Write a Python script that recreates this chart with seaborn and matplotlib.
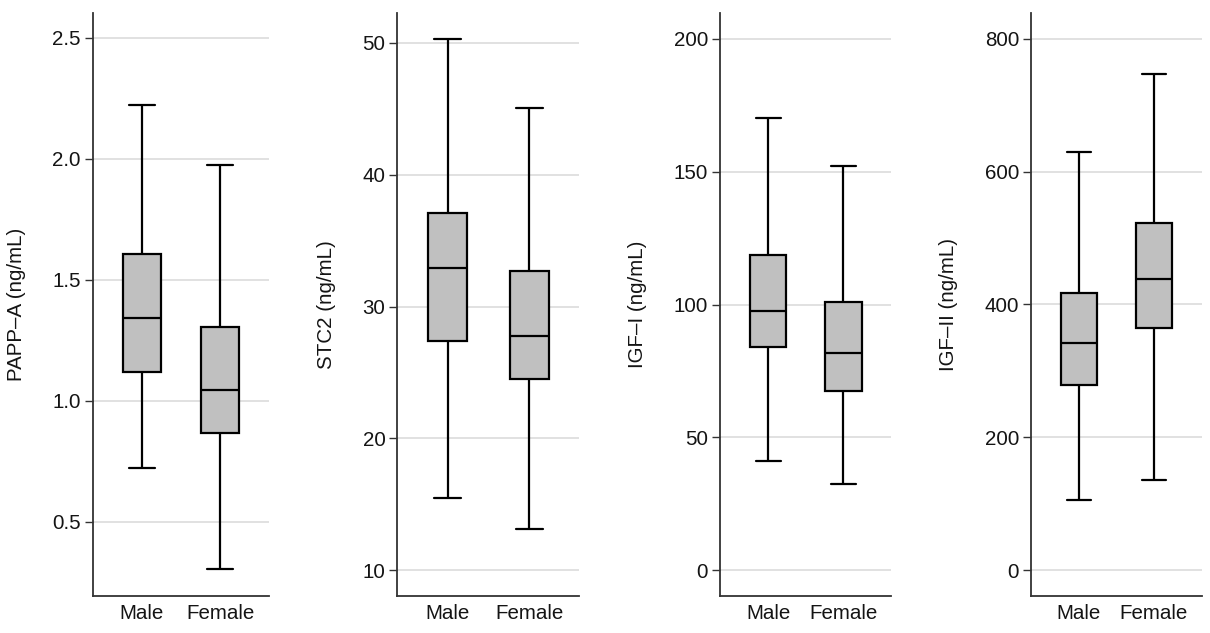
import numpy as np
import pandas as pd
import seaborn as sns
import matplotlib.pyplot as plt

# five-number summaries (min, Q1, median, Q3, max)
groups = ['Male', 'Female']

pappa_male = [0.72, 1.118, 1.341, 1.607, 2.22]
pappa_female = [0.303, 0.867, 1.044, 1.306, 1.972]

stc2_male = [15.5, 27.4, 32.9, 37.1, 50.3]
stc2_female = [13.15, 24.5, 27.8, 32.7, 45.1]

igf1_male = [41.3, 83.9, 97.7, 118.7, 170.1]
igf1_female = [32.5, 67.5, 81.9, 100.8, 152.0]

igf2_male = [106, 278.5, 341.8, 417.8, 630]
igf2_female = [135.6, 364.7, 437.7, 522, 747]

labels = ['PAPP\u2013A (ng/mL)', 'STC2 (ng/mL)', 'IGF\u2013I (ng/mL)', 'IGF\u2013II (ng/mL)']
yticks = [[0.5, 1.0, 1.5, 2.0, 2.5], [10, 20, 30, 40, 50],
          [0, 50, 100, 150, 200], [0, 200, 400, 600, 800]]
yfmt = ['{:.1f}', '{:.0f}', '{:.0f}', '{:.0f}']
ylims = [(0.193, 2.603), (8.04, 52.3), (-9.7, 209.9), (-39, 839.5)]
xlims = [(-0.626, 1.621), (-0.616, 1.61), (-0.644, 1.631), (-0.64, 1.636)]

panels = [(pappa_male, pappa_female), (stc2_male, stc2_female),
          (igf1_male, igf1_female), (igf2_male, igf2_female)]

sns.set_style('white')
plt.rcParams['font.family'] = ['Liberation Sans', 'DejaVu Sans']
text_col = '#141414'

fig = plt.figure(figsize=(12.1, 6.33), dpi=100)
# axes boxes [left, bottom, width, height] in figure fractions
boxes = [[0.0766, 0.0585, 0.1455, 0.9215],
         [0.3283, 0.0585, 0.1504, 0.9215],
         [0.595, 0.0585, 0.1411, 0.9215],
         [0.852, 0.0585, 0.1411, 0.9215]]

for i, (male, female) in enumerate(panels):
    ax = fig.add_axes(boxes[i])
    df = pd.DataFrame({
        'sex': [groups[0]] * len(male) + [groups[1]] * len(female),
        'value': male + female,
    })
    ax.yaxis.grid(True, color='#d9d9d9', lw=1.1)
    ax.set_axisbelow(True)
    sns.boxplot(data=df, x='sex', y='value', order=groups, ax=ax,
                color='#c0c0c0', saturation=1, linecolor='black',
                linewidth=1.6, width=0.485, whis=(0, 100), showfliers=False,
                capwidths=0.33)
    ax.set_xlim(*xlims[i])
    ax.set_ylim(*ylims[i])
    ax.set_yticks(yticks[i])
    ax.set_yticklabels([yfmt[i].format(v) for v in yticks[i]])
    ax.set_xlabel('')
    ax.set_ylabel(labels[i], fontsize=14.8, labelpad=19, color=text_col)
    ax.tick_params(axis='y', length=6, width=1, color='#333333',
                   labelsize=14.8, pad=2.5, left=True, labelcolor=text_col)
    ax.tick_params(axis='x', length=0, labelsize=14.8, pad=6,
                   labelcolor=text_col)
    for s in ['top', 'right']:
        ax.spines[s].set_visible(False)
    for s in ['left', 'bottom']:
        ax.spines[s].set_color('#333333')
        ax.spines[s].set_linewidth(1.3)

fig.savefig('out.png', dpi=100)
